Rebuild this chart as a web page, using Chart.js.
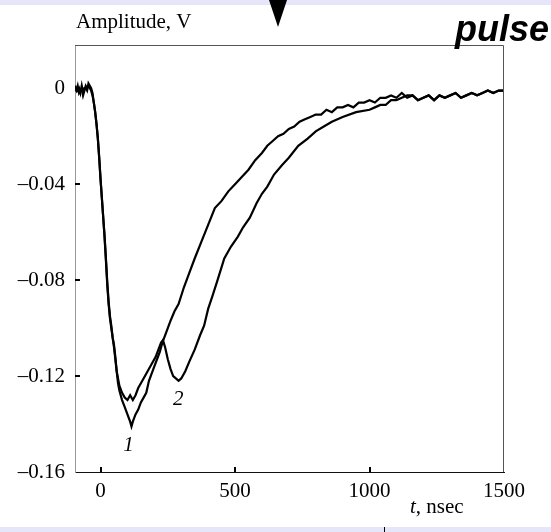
<!DOCTYPE html>
<html>
<head>
<meta charset="utf-8">
<script src="https://cdn.jsdelivr.net/npm/chart.js@4.4.0/dist/chart.umd.min.js"></script>
<style>
  html, body { margin: 0; padding: 0; background: #fff; }
  #wrap { position: relative; width: 551px; height: 532px; overflow: hidden; }
  #chart { position: absolute; left: 0; top: 0; }
  .band { position: absolute; left: 0; width: 551px; background: #e6e6fa; }
  #arrow {
    position: absolute; left: 269px; top: 0; width: 0; height: 0;
    border-left: 9px solid transparent; border-right: 9px solid transparent;
    border-top: 27px solid #000;
  }
  #pulse {
    position: absolute; left: 455px; top: 8px; font: italic bold 36px 'Liberation Sans', Arial, sans-serif;
    color: #000; white-space: nowrap;
  }
  #mark { position: absolute; left: 384px; top: 527px; width: 1px; height: 5px; background: #000; }
</style>
</head>
<body>
<div id="wrap">
  <canvas id="chart" width="551" height="532"></canvas>
  <div class="band" style="top:0;height:5px"></div>
  <div class="band" style="top:527px;height:5px"></div>
  <div id="arrow"></div>
  <div id="pulse">pulse</div>
  <div id="mark"></div>
</div>
<script>
// curve 1 (deeper single minimum)
const curve1Time = [-95, -90, -85, -80, -75, -70, -65, -60, -55, -50, -45, -40, -35, -30, -25, -20, -15, -10, -5,
  0, 5, 10, 15, 20, 25, 30, 35, 40, 45, 50, 55, 60, 65, 70, 80, 90, 100, 110, 115, 120, 130, 140, 150, 160, 170,
  180, 190, 200, 210, 220, 230, 240, 250, 260, 275, 290, 310, 330, 350, 375, 400, 425, 450, 475, 500, 525, 550, 575,
  600, 620, 640, 660, 680, 700, 720, 740, 760, 780, 800, 820, 840, 860, 880, 900, 920, 940, 960, 980,
  1000, 1020, 1040, 1060, 1080, 1100, 1120, 1140, 1160, 1180, 1200, 1220, 1240, 1260, 1280, 1300, 1320, 1340,
  1360, 1380, 1400, 1420, 1440, 1460, 1480, 1500];
const curve1Amp = [0.000, -0.001, 0.001, -0.002, -0.001, 0.000, -0.003, -0.001, 0.001, 0.000, 0.001, 0.000, -0.001,
  -0.003, -0.006, -0.010, -0.015, -0.021, -0.029,
  -0.038, -0.046, -0.054, -0.062, -0.072, -0.082, -0.090, -0.096, -0.100, -0.104, -0.107, -0.112, -0.118, -0.123,
  -0.126, -0.130, -0.133, -0.136, -0.139, -0.141, -0.139, -0.136, -0.134, -0.131, -0.129, -0.127,
  -0.122, -0.119, -0.116, -0.113, -0.110, -0.106, -0.103, -0.100, -0.097, -0.093, -0.090, -0.083, -0.077, -0.071,
  -0.064, -0.057, -0.050, -0.047, -0.043, -0.040, -0.037, -0.034, -0.030,
  -0.027, -0.024, -0.022, -0.020, -0.019, -0.017, -0.016, -0.014, -0.013, -0.012, -0.011, -0.011, -0.009, -0.010,
  -0.008, -0.008, -0.007, -0.008, -0.006, -0.006,
  -0.005, -0.006, -0.004, -0.004, -0.003, -0.004, -0.002, -0.004, -0.003, -0.005, -0.004, -0.003, -0.005, -0.003,
  -0.004, -0.003, -0.002, -0.004, -0.003, -0.002, -0.003, -0.002, -0.001, -0.002, -0.001, -0.001];

// curve 2 (two minima)
const curve2Time = [-95, -90, -85, -80, -75, -70, -65, -60, -55, -50, -45, -40, -35, -30, -25, -20, -15, -10, -5,
  0, 5, 10, 15, 20, 25, 30, 35, 40, 45, 50, 55, 60, 70, 80, 90, 100, 110, 120, 130, 140, 150, 160, 175, 190, 205,
  215, 225, 232, 240, 250, 260, 270, 280, 290, 300, 315, 330, 350, 370, 385, 400, 415, 435, 460, 485, 510, 530,
  555, 580, 600, 620, 645, 675, 700, 735, 770, 800, 830, 860, 900, 950, 1000, 1020, 1040, 1060, 1080, 1100,
  1120, 1140, 1160, 1180, 1200, 1220, 1240, 1260, 1280, 1300, 1320, 1340, 1360, 1380, 1400, 1420, 1440, 1460,
  1480, 1500];
const curve2Amp = [0.001, 0.000, -0.001, 0.000, -0.002, 0.001, -0.002, 0.000, 0.000, -0.001, 0.002, 0.001, 0.000,
  -0.002, -0.006, -0.010, -0.015, -0.021, -0.029,
  -0.038, -0.046, -0.054, -0.062, -0.071, -0.081, -0.089, -0.095, -0.099, -0.104, -0.108, -0.113, -0.118, -0.124,
  -0.127, -0.129, -0.130, -0.128, -0.130, -0.128, -0.125, -0.123, -0.121, -0.118, -0.115, -0.112,
  -0.109, -0.106, -0.105, -0.108, -0.113, -0.117, -0.120, -0.121, -0.122, -0.121, -0.118, -0.114, -0.109, -0.103,
  -0.099, -0.092, -0.087, -0.080, -0.071, -0.066, -0.062, -0.058,
  -0.054, -0.048, -0.044, -0.041, -0.036, -0.032, -0.029, -0.024, -0.021, -0.018, -0.016, -0.014, -0.012, -0.010,
  -0.009, -0.008, -0.007, -0.007, -0.005, -0.005,
  -0.004, -0.003, -0.003, -0.005, -0.004, -0.003, -0.005, -0.003, -0.004, -0.003, -0.002, -0.004, -0.003, -0.002,
  -0.003, -0.002, -0.001, -0.002, -0.001, -0.001];

const xTicks = [0, 500, 1000, 1500];
const yTicks = [-0.16, -0.12, -0.08, -0.04, 0];
const curveLabels = ['1', '2'];
const curveLabelAt = [[104, -0.149], [289, -0.1296]];

const serif = "'Liberation Serif', 'Times New Roman', serif";

function toPoints(ts, vs) {
    return ts.map((t, i) => ({ x: t, y: vs[i] }));
}

function fmtY(v) {
    if (Math.abs(v) < 1e-9) return '0';
    return '\u2013' + Math.abs(v).toFixed(2);
}

// box, inward ticks and texts
const decorPlugin = {
    id: 'decor',
    afterDraw(chart) {
        const { ctx, chartArea: a, scales } = chart;
        ctx.save();
        ctx.lineWidth = 1;
        ctx.strokeStyle = '#555';
        ctx.beginPath();
        ctx.moveTo(a.left, a.top + 0.5);
        ctx.lineTo(a.right - 0.5, a.top + 0.5);
        ctx.lineTo(a.right - 0.5, a.bottom);
        ctx.stroke();

        ctx.strokeStyle = '#000';
        ctx.lineWidth = 2;
        xTicks.slice(0, 3).forEach(v => {
            const px = Math.round(scales.x.getPixelForValue(v));
            ctx.beginPath();
            ctx.moveTo(px, a.bottom);
            ctx.lineTo(px, a.bottom - 5);
            ctx.stroke();
        });
        yTicks.slice(1).forEach(v => {
            const py = Math.round(scales.y.getPixelForValue(v));
            ctx.beginPath();
            ctx.moveTo(a.left, py);
            ctx.lineTo(a.left + 5, py);
            ctx.stroke();
        });

        ctx.fillStyle = '#000';
        ctx.textBaseline = 'middle';
        ctx.textAlign = 'left';
        ctx.font = '21px ' + serif;
        ctx.fillText('Amplitude, V', 76, 22);

        ctx.font = 'italic 21px ' + serif;
        ctx.fillText('t', 410, 507);
        const tw = ctx.measureText('t').width;
        ctx.font = '21px ' + serif;
        ctx.fillText(', nsec', 410 + tw, 507);

        ctx.font = 'italic 21px ' + serif;
        ctx.textAlign = 'center';
        curveLabels.forEach((lab, i) => {
            const [t, v] = curveLabelAt[i];
            ctx.fillText(lab, scales.x.getPixelForValue(t), scales.y.getPixelForValue(v));
        });
        ctx.restore();
    }
};

const lineStyle = {
    borderColor: '#000',
    borderWidth: 2.2,
    pointRadius: 0,
    tension: 0,
    fill: false
};

new Chart(document.getElementById('chart').getContext('2d'), {
    type: 'line',
    data: {
        datasets: [
            { label: '1', data: toPoints(curve1Time, curve1Amp), ...lineStyle },
            { label: '2', data: toPoints(curve2Time, curve2Amp), ...lineStyle }
        ]
    },
    options: {
        responsive: false,
        animation: false,
        layout: { padding: { left: 0, right: 47, top: 45, bottom: 0 } },
        plugins: { legend: { display: false }, tooltip: { enabled: false } },
        scales: {
            x: {
                type: 'linear',
                min: -95,
                max: 1500,
                afterFit: s => { s.height = 60; },
                afterBuildTicks: s => { s.ticks = xTicks.map(v => ({ value: v })); },
                grid: { display: true, drawOnChartArea: false, drawTicks: false },
                border: { display: true, color: '#111', width: 1 },
                ticks: { color: '#000', padding: 7, maxRotation: 0, callback: v => String(v), font: { family: serif, size: 21 } }
            },
            y: {
                type: 'linear',
                min: -0.16,
                max: 0.018,
                afterFit: s => { s.width = 75; },
                afterBuildTicks: s => { s.ticks = yTicks.map(v => ({ value: v })); },
                grid: { display: true, drawOnChartArea: false, drawTicks: false },
                border: { display: true, color: '#999', width: 1 },
                ticks: { color: '#000', padding: 10, callback: fmtY, font: { family: serif, size: 21 } }
            }
        }
    },
    plugins: [decorPlugin]
});
</script>
</body>
</html>
